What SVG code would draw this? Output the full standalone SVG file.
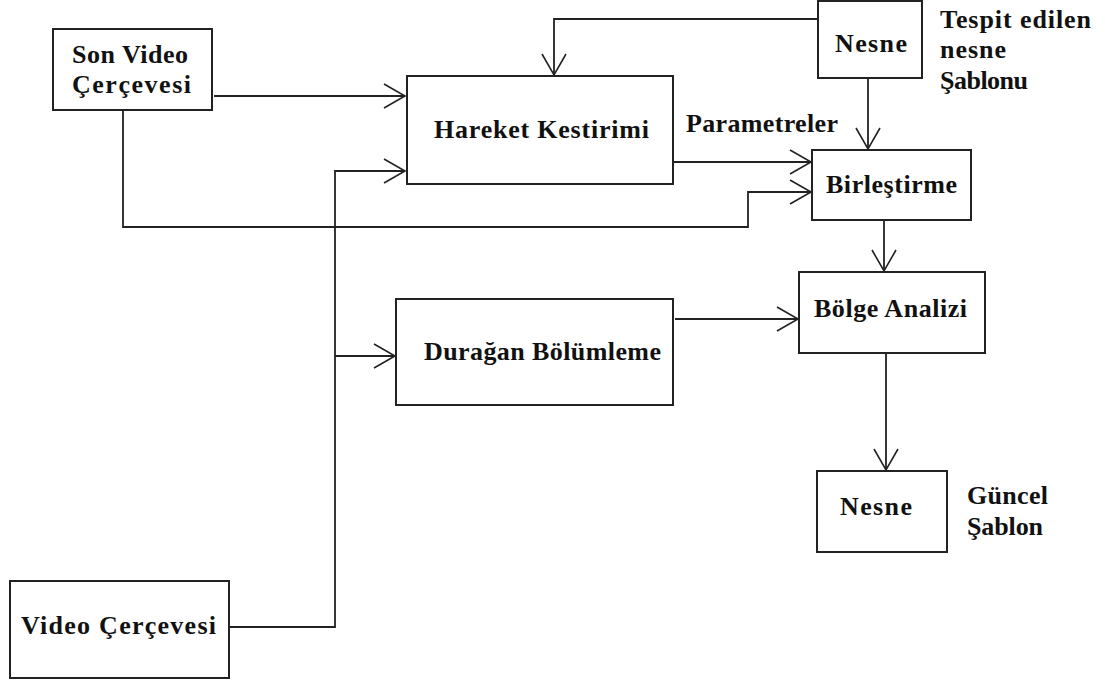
<svg xmlns="http://www.w3.org/2000/svg" width="1105" height="680" viewBox="0 0 1105 680">
  <defs>
    <style>
      .box { fill: #fff; stroke: #222; stroke-width: 2; }
      .wire { fill: none; stroke: #222; stroke-width: 1.8; }
      .lbl { font-family: "Liberation Serif", "Times New Roman", serif; font-weight: bold; font-size: 26px; fill: #111; }
    </style>
    <marker id="open" markerUnits="userSpaceOnUse" markerWidth="30" markerHeight="30" refX="0" refY="0" viewBox="-24 -15 28 30" orient="auto" overflow="visible">
      <path d="M -21 -12 L 0 0 L -21 12" fill="none" stroke="#222" stroke-width="1.6"/>
    </marker>
  </defs>
  <rect width="1105" height="680" fill="#fff"/>

  <g id="connectors">
    <!-- last frame to motion estimation -->
    <path class="wire" d="M 214 96 L 405 96" marker-end="url(#open)"/>
    <!-- last frame down and round to fusion -->
    <path class="wire" d="M 123 110 L 123 227 L 748 227 L 748 192 L 811 192" marker-end="url(#open)"/>
    <!-- video frame trunk -->
    <path class="wire" d="M 229 627 L 335 627 L 335 171 L 405 171" marker-end="url(#open)"/>
    <path class="wire" d="M 335 356 L 395 356" marker-end="url(#open)"/>
    <!-- object template feedback to motion estimation -->
    <path class="wire" d="M 818 19 L 554 19 L 554 75" marker-end="url(#open)"/>
    <!-- object template down to fusion -->
    <path class="wire" d="M 868 78 L 868 149" marker-end="url(#open)"/>
    <!-- parameters -->
    <path class="wire" d="M 673 162 L 811 162" marker-end="url(#open)"/>
    <!-- fusion to region analysis -->
    <path class="wire" d="M 884 220 L 884 271" marker-end="url(#open)"/>
    <!-- static segmentation to region analysis -->
    <path class="wire" d="M 675 319 L 798 319" marker-end="url(#open)"/>
    <!-- region analysis to updated template -->
    <path class="wire" d="M 886 353 L 886 470" marker-end="url(#open)"/>
  </g>

  <g id="son-video">
    <rect class="box" x="53" y="29" width="159" height="81"/>
    <text class="lbl" x="72" y="63" textLength="116" lengthAdjust="spacing">Son Video</text>
    <text class="lbl" x="72" y="93" textLength="119" lengthAdjust="spacing">Çerçevesi</text>
  </g>

  <g id="hareket">
    <rect class="box" x="407" y="76" width="266" height="108"/>
    <text class="lbl" x="434" y="138" textLength="215" lengthAdjust="spacing">Hareket Kestirimi</text>
  </g>

  <text class="lbl" x="686" y="132" textLength="152" lengthAdjust="spacing">Parametreler</text>

  <g id="nesne-tespit">
    <rect class="box" x="818" y="1" width="104" height="77"/>
    <text class="lbl" x="835" y="52" textLength="72" lengthAdjust="spacing">Nesne</text>
  </g>
  <text class="lbl" x="940" y="28" textLength="151" lengthAdjust="spacing">Tespit edilen</text>
  <text class="lbl" x="940" y="58" textLength="66" lengthAdjust="spacing">nesne</text>
  <text class="lbl" x="940" y="89" textLength="88" lengthAdjust="spacing">Şablonu</text>

  <g id="birlestirme">
    <rect class="box" x="812" y="150" width="159" height="70"/>
    <text class="lbl" x="826" y="193" textLength="131" lengthAdjust="spacing">Birleştirme</text>
  </g>

  <g id="bolge">
    <rect class="box" x="799" y="272" width="186" height="81"/>
    <text class="lbl" x="814" y="317" textLength="153" lengthAdjust="spacing">Bölge Analizi</text>
  </g>

  <g id="duragan">
    <rect class="box" x="396" y="299" width="277" height="106"/>
    <text class="lbl" x="424" y="360" textLength="237" lengthAdjust="spacing">Durağan Bölümleme</text>
  </g>

  <g id="video">
    <rect class="box" x="10" y="581" width="219" height="97"/>
    <text class="lbl" x="21" y="634" textLength="195" lengthAdjust="spacing">Video Çerçevesi</text>
  </g>

  <g id="nesne-guncel">
    <rect class="box" x="817" y="471" width="130" height="81"/>
    <text class="lbl" x="840" y="515" textLength="72" lengthAdjust="spacing">Nesne</text>
  </g>
  <text class="lbl" x="967" y="504" textLength="81" lengthAdjust="spacing">Güncel</text>
  <text class="lbl" x="967" y="535" textLength="76" lengthAdjust="spacing">Şablon</text>
</svg>
